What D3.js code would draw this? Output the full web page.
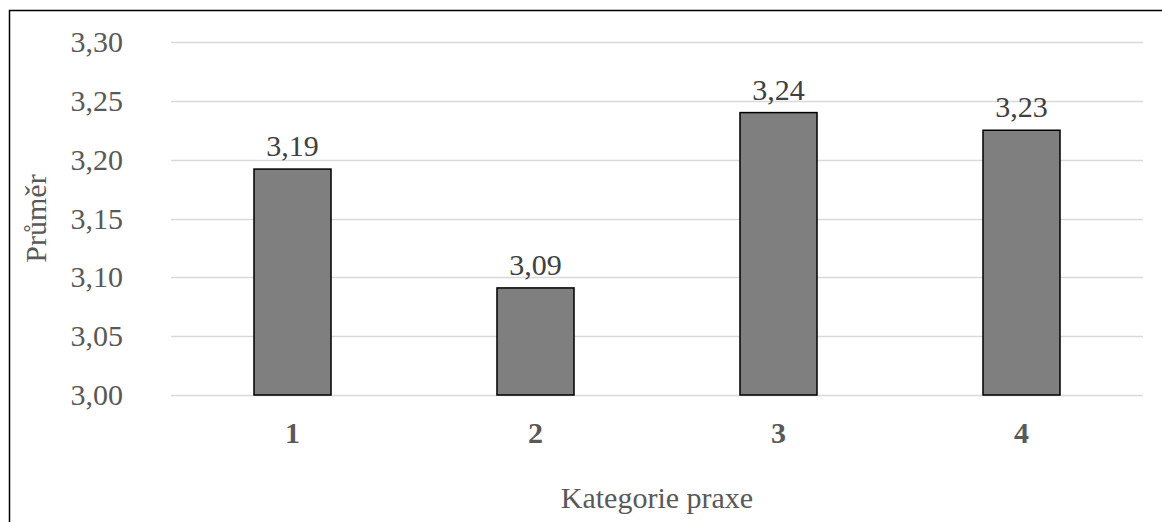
<!DOCTYPE html>
<html>
<head>
<meta charset="utf-8">
<script src="https://cdn.jsdelivr.net/npm/d3@7/dist/d3.min.js"></script>
<style>
  html, body { margin: 0; padding: 0; background: #fff; }
  svg text { font-family: "Liberation Serif", "Times New Roman", serif; fill: #595959; }
</style>
</head>
<body>
<svg id="chart" width="1162" height="522"></svg>
<script>
const categories = ["1", "2", "3", "4"];
const values = [3.192, 3.091, 3.240, 3.225];
const valueLabels = ["3,19", "3,09", "3,24", "3,23"];
const yTicks = [3.00, 3.05, 3.10, 3.15, 3.20, 3.25, 3.30];
const yTitle = "Průměr";
const xTitle = "Kategorie praxe";

const svg = d3.select("#chart");
const W = 1162, H = 522;
const m = { left: 171, right: 19, top: 42, bottom: 127 };
const FS = 30;

// outer frame
svg.append("rect").attr("x", 9.5).attr("y", 10.5).attr("width", W + 10).attr("height", H + 10)
  .attr("fill", "none").attr("stroke", "#000").attr("stroke-width", 1.5);

const x = d3.scaleBand().domain(categories).range([m.left, W - m.right]).paddingInner(0.683).paddingOuter(0.3415);
const y = d3.scaleLinear().domain([3.0, 3.3]).range([H - m.bottom, m.top]);

const fmt = d => d.toFixed(2).replace(".", ",");

// gridlines
svg.append("g").selectAll("line").data(yTicks).join("line")
  .attr("x1", m.left).attr("x2", W - m.right)
  .attr("y1", d => Math.round(y(d)) + 0.5).attr("y2", d => Math.round(y(d)) + 0.5)
  .attr("stroke", "#d9d9d9").attr("stroke-width", 1.5);

// y axis labels
const yAxis = d3.axisLeft(y).tickValues(yTicks).tickFormat(fmt).tickSize(0).tickPadding(48);
const gy = svg.append("g").attr("transform", `translate(${m.left},0)`).call(yAxis);
gy.select(".domain").remove();
gy.selectAll("text").attr("font-size", FS).attr("fill", "#595959")
  .style("font-family", '"Liberation Serif", serif');

// bars
svg.append("g").selectAll("rect").data(values).join("rect")
  .attr("x", (d, i) => x(categories[i]))
  .attr("width", x.bandwidth())
  .attr("y", d => y(d))
  .attr("height", d => y(3.0) - y(d))
  .attr("fill", "#7f7f7f").attr("stroke", "#000").attr("stroke-width", 1.5);

// value labels
svg.append("g").selectAll("text").data(values).join("text")
  .attr("x", (d, i) => x(categories[i]) + x.bandwidth() / 2)
  .attr("y", d => y(d) - 13)
  .attr("text-anchor", "middle").attr("font-size", FS).style("fill", "#404040")
  .text((d, i) => valueLabels[i]);

// x axis labels
const xAxis = d3.axisBottom(x).tickSize(0).tickPadding(27);
const gx = svg.append("g").attr("transform", `translate(0,${H - m.bottom})`).call(xAxis);
gx.select(".domain").remove();
gx.selectAll("text").attr("font-size", FS).attr("font-weight", "bold").attr("fill", "#595959")
  .style("font-family", '"Liberation Serif", serif');

// axis titles
svg.append("text").attr("x", (m.left + W - m.right) / 2).attr("y", 508)
  .attr("text-anchor", "middle").attr("font-size", FS).text(xTitle);
svg.append("text").attr("transform", `translate(46,${(m.top + H - m.bottom) / 2}) rotate(-90)`)
  .attr("text-anchor", "middle").attr("font-size", FS).text(yTitle);
</script>
</body>
</html>
